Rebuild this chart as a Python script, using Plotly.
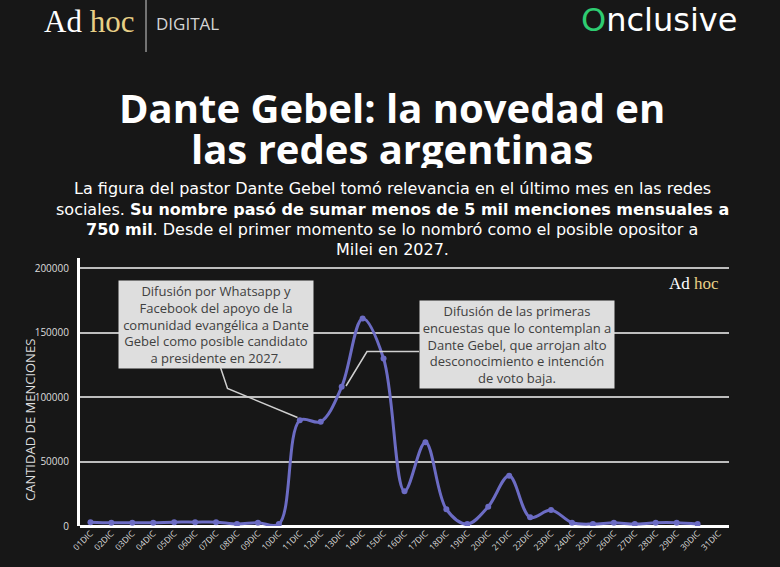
import plotly.graph_objects as go

days = [f"{d:02d}DIC" for d in range(1, 32)]
menciones = [3000, 2500, 2500, 2500, 3000, 3000, 3000, 1500, 2600, 1500,
             82000, 81000, 108000, 161000, 130000, 27000, 65000, 13000, 1500, 15000,
             39000, 6700, 12400, 2600, 1500, 2500, 1500, 2500, 2500, 1500]
y_ticks = [0, 50000, 100000, 150000, 200000]

title_lines = ["Dante Gebel: la novedad en", "las redes argentinas"]
subtitle_lines = [
    "La figura del pastor Dante Gebel tomó relevancia en el último mes en las redes",
    "sociales. <b>Su nombre pasó de sumar menos de 5 mil menciones mensuales a</b>",
    "<b>750 mil</b>. Desde el primer momento se lo nombró como el posible opositor a",
    "Milei en 2027.",
]
note1 = ("Difusión por Whatsapp y<br>Facebook del apoyo de la<br>comunidad evangélica a Dante<br>"
         "Gebel como posible candidato<br>a presidente en 2027.")
note2 = ("Difusión de las primeras<br>encuestas que lo contemplan a<br>Dante Gebel, que arrojan alto<br>"
         "desconocimiento e intención<br>de voto baja.")

W, H = 780, 567
L, R, T, B = 80, 729, 258, 526  # plot area in px

def px(x):
    return (x - L) / (R - L)

def py(y):
    return (B - y) / (B - T)

BG = "#171717"
LINE = "#6c6cc4"

fig = go.Figure()
fig.add_trace(go.Scatter(
    x=days[:len(menciones)], y=menciones, mode="lines+markers",
    line=dict(color=LINE, width=3, shape="spline", smoothing=1.0),
    marker=dict(color=LINE, size=6), hoverinfo="skip", showlegend=False))

fig.update_layout(
    width=W, height=H, paper_bgcolor=BG, plot_bgcolor=BG,
    margin=dict(l=L, r=W - R, t=T, b=H - B, pad=0),
    font=dict(family="Open Sans", color="#e6e6e6"),
    xaxis=dict(type="category", categoryorder="array", categoryarray=days,
               range=[-0.5, 30.5], tickvals=days, ticktext=days, tickangle=-45,
               tickfont=dict(size=8.5, color="#dddddd", family="Open Sans"),
               showgrid=False, showline=False, zeroline=False, ticks="", ticklen=0),
    yaxis=dict(range=[0, 208000], tickvals=y_ticks, tickformat="d",
               tickfont=dict(size=10, color="#dddddd", family="Open Sans"),
               showgrid=True, gridcolor="#bdbdbd", gridwidth=1.5,
               zeroline=True, zerolinecolor="#ffffff", zerolinewidth=3,
               showline=True, linecolor="#ffffff", linewidth=3, ticks="", ticklabelstandoff=6),
)

shapes = []
shapes.append(dict(type="path", xref="paper", yref="paper",
                   path=f"M {px(220.5)} {py(367.5)} L {px(227.5)} {py(388.5)} L {px(297.5)} {py(417.5)}",
                   line=dict(color="#d0d0d0", width=1.5)))
shapes.append(dict(type="path", xref="paper", yref="paper",
                   path=f"M {px(419)} {py(351.5)} L {px(367)} {py(351.5)} L {px(346)} {py(386)}",
                   line=dict(color="#d0d0d0", width=1.5)))
shapes.append(dict(type="line", xref="paper", yref="paper",
                   x0=px(146), x1=px(146), y0=py(0), y1=py(52),
                   line=dict(color="#cfcfcf", width=1)))
fig.update_layout(shapes=shapes)

ann = []
ann.append(dict(xref="paper", yref="paper", x=px(42), y=py(22), xanchor="left", yanchor="middle",
                text="<span style='color:#ffffff'>Ad</span> <span style='color:#e8cf86'>hoc</span>",
                showarrow=False, font=dict(family="Liberation Serif", size=31)))
ann.append(dict(xref="paper", yref="paper", x=px(154), y=py(23), xanchor="left", yanchor="middle",
                text="DIGITAL", showarrow=False,
                font=dict(family="Open Sans", size=17, color="#d4d4d4")))
ann.append(dict(xref="paper", yref="paper", x=px(739), y=py(20), xanchor="right", yanchor="middle",
                text="<span style='color:#2ecc71'>O</span>nclusive", showarrow=False,
                font=dict(family="DejaVu Sans", size=32, color="#ffffff")))
for t, yy in zip(title_lines, [107, 148]):
    ann.append(dict(xref="paper", yref="paper", x=px(392), y=py(yy), xanchor="center", yanchor="middle",
                    text=f"<b>{t}</b>", showarrow=False, height=40,
                    font=dict(family="Open Sans", size=40, color="#ffffff")))
for t, yy in zip(subtitle_lines, [188, 209, 229.5, 250]):
    ann.append(dict(xref="paper", yref="paper", x=px(392), y=py(yy), xanchor="center", yanchor="middle",
                    text=t, showarrow=False,
                    font=dict(family="DejaVu Sans", size=16, color="#ffffff")))
ann.append(dict(xref="paper", yref="paper", x=px(30), y=py(420), xanchor="center", yanchor="middle",
                text="CANTIDAD DE MENCIONES", textangle=-90, showarrow=False,
                font=dict(family="Open Sans", size=13, color="#dddddd")))
ann.append(dict(xref="paper", yref="paper", x=px(694), y=py(283), xanchor="center", yanchor="middle",
                text="<span style='color:#ffffff'>Ad</span> <span style='color:#e8cf86'>hoc</span>",
                showarrow=False, font=dict(family="Liberation Serif", size=17)))
ann.append(dict(xref="paper", yref="paper", x=px(216), y=py(324.5), xanchor="center", yanchor="middle",
                text=note1, showarrow=False, bgcolor="#dedede", width=192, height=85, borderpad=1,
                font=dict(family="Open Sans", size=13, color="#404040")))
ann.append(dict(xref="paper", yref="paper", x=px(517), y=py(344.5), xanchor="center", yanchor="middle",
                text=note2, showarrow=False, bgcolor="#dedede", width=192, height=85, borderpad=1,
                font=dict(family="Open Sans", size=13, color="#404040")))
fig.update_layout(annotations=ann)

fig.write_html("out.html")
